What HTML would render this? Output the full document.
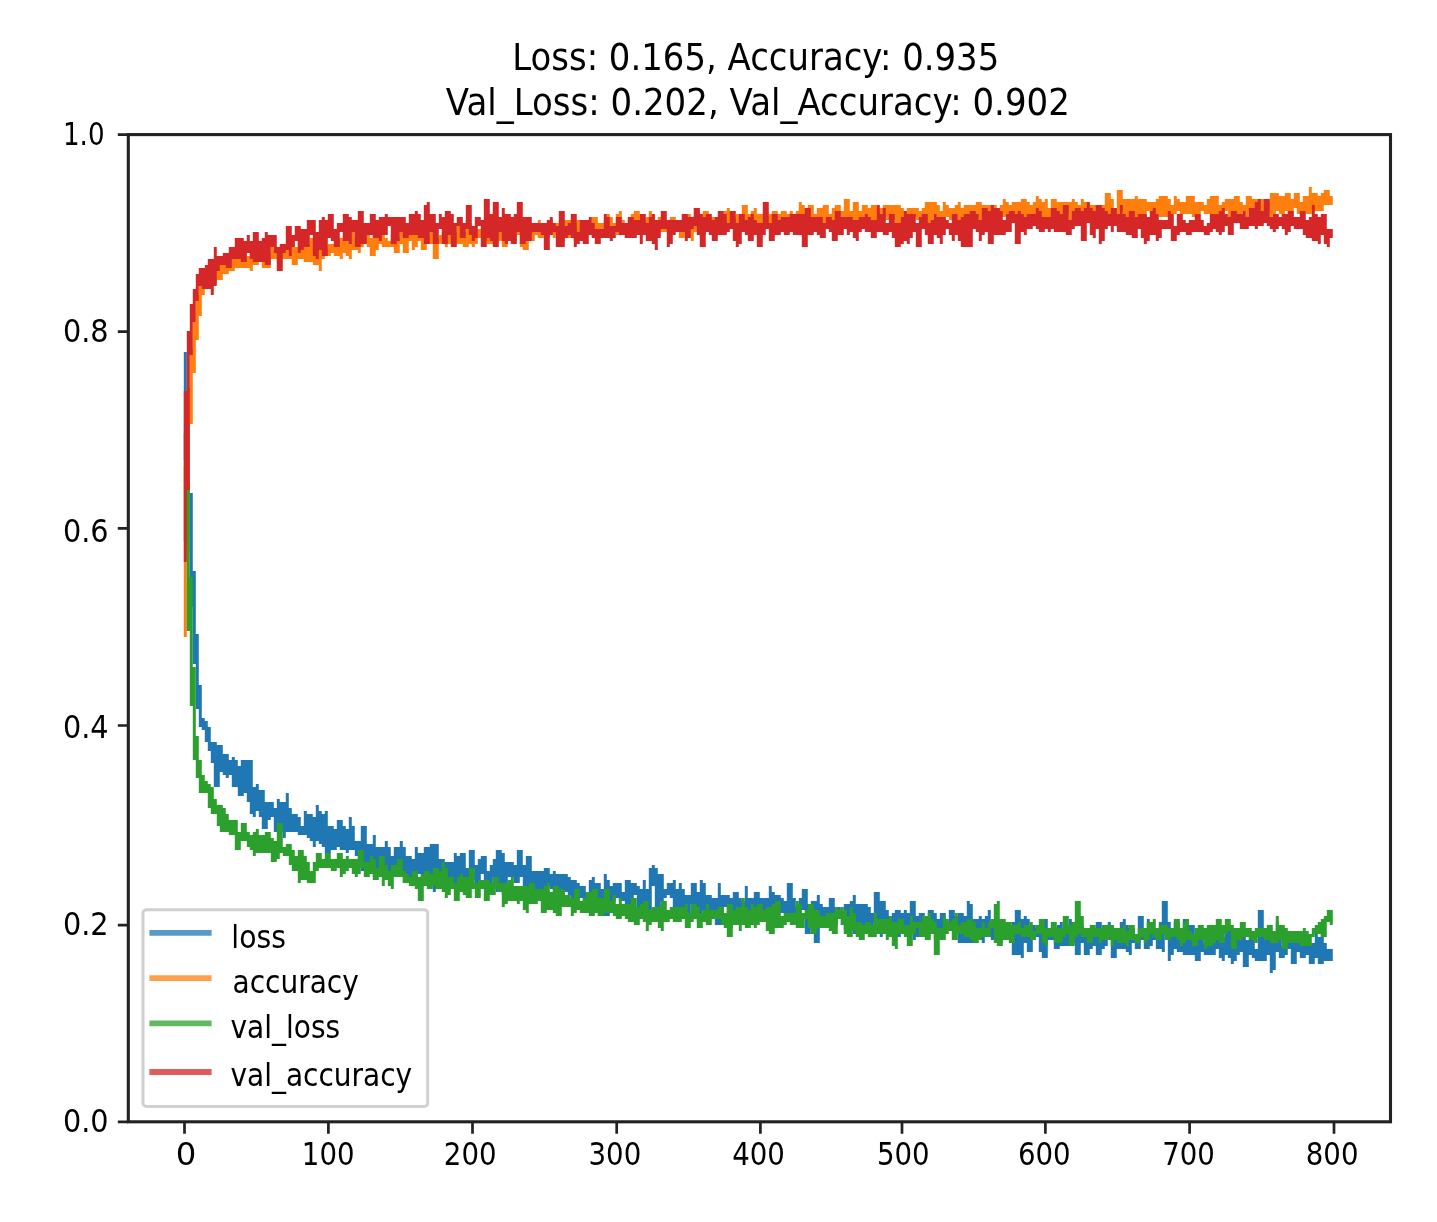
<!DOCTYPE html>
<html><head><meta charset="utf-8"><title>Training history</title>
<style>html,body{margin:0;padding:0;background:#fff;}svg{display:block;filter:blur(0.7px);}</style>
</head><body>
<svg width="1437" height="1222" viewBox="0 0 1437 1222"><rect x="0" y="0" width="1437" height="1222" fill="#fff"/>
<defs><clipPath id="ax"><rect x="128.3" y="134.6" width="1262.2" height="987.1999999999999"/></clipPath></defs>
<g clip-path="url(#ax)">
<path d="M183.80,352.10H186.80V403.10H189.80V493.10H192.80V571.10H195.80V634.10H198.80V685.10H201.80V718.10H204.80V721.10H207.80V727.10H210.80V742.10H213.80V742.10H216.80V745.10H219.80V745.10H222.80V754.10H225.80V754.10H228.80V760.10H231.80V757.10H234.80V760.10H237.80V766.10H240.80V760.10H243.80V760.10H246.80V760.10H249.80V760.10H252.80V787.10H255.80V784.10H258.80V790.10H261.80V790.10H264.80V802.10H267.80V802.10H270.80V802.10H273.80V808.10H276.80V799.10H279.80V802.10H282.80V802.10H285.80V793.10H288.80V808.10H291.80V814.10H294.80V814.10H297.80V817.10H300.80V826.10H303.80V811.10H306.80V814.10H309.80V814.10H312.80V817.10H315.80V805.10H318.80V811.10H321.80V814.10H324.80V811.10H327.80V826.10H330.80V826.10H333.80V829.10H336.80V820.10H339.80V820.10H342.80V826.10H345.80V829.10H348.80V817.10H351.80V826.10H354.80V841.10H357.80V841.10H360.80V826.10H363.80V826.10H366.80V844.10H369.80V844.10H372.80V835.10H375.80V847.10H378.80V847.10H381.80V847.10H384.80V841.10H387.80V847.10H390.80V856.10H393.80V847.10H396.80V847.10H399.80V841.10H402.80V847.10H405.80V856.10H408.80V856.10H411.80V859.10H414.80V847.10H417.80V853.10H420.80V853.10H423.80V847.10H426.80V847.10H429.80V844.10H432.80V844.10H435.80V844.10H438.80V859.10H441.80V859.10H444.80V862.10H447.80V862.10H450.80V862.10H453.80V853.10H456.80V856.10H459.80V853.10H462.80V853.10H465.80V868.10H468.80V850.10H471.80V850.10H474.80V865.10H477.80V859.10H480.80V856.10H483.80V856.10H486.80V871.10H489.80V865.10H492.80V859.10H495.80V850.10H498.80V850.10H501.80V853.10H504.80V862.10H507.80V862.10H510.80V862.10H513.80V865.10H516.80V850.10H519.80V850.10H522.80V865.10H525.80V856.10H528.80V856.10H531.80V871.10H534.80V871.10H537.80V871.10H540.80V871.10H543.80V868.10H546.80V868.10H549.80V874.10H552.80V871.10H555.80V874.10H558.80V874.10H561.80V874.10H564.80V874.10H567.80V877.10H570.80V880.10H573.80V880.10H576.80V883.10H579.80V886.10H582.80V886.10H585.80V892.10H588.80V880.10H591.80V877.10H594.80V883.10H597.80V883.10H600.80V889.10H603.80V874.10H606.80V880.10H609.80V886.10H612.80V883.10H615.80V883.10H618.80V883.10H621.80V892.10H624.80V880.10H627.80V880.10H630.80V883.10H633.80V883.10H636.80V886.10H639.80V889.10H642.80V880.10H645.80V889.10H648.80V868.10H651.80V865.10H654.80V868.10H657.80V874.10H660.80V874.10H663.80V889.10H666.80V883.10H669.80V883.10H672.80V880.10H675.80V889.10H678.80V883.10H681.80V889.10H684.80V895.10H687.80V895.10H690.80V883.10H693.80V883.10H696.80V892.10H699.80V880.10H702.80V883.10H705.80V895.10H708.80V895.10H711.80V898.10H714.80V898.10H717.80V883.10H720.80V895.10H723.80V895.10H726.80V895.10H729.80V898.10H732.80V892.10H735.80V892.10H738.80V898.10H741.80V901.10H744.80V886.10H747.80V898.10H750.80V898.10H753.80V892.10H756.80V892.10H759.80V898.10H762.80V898.10H765.80V898.10H768.80V886.10H771.80V892.10H774.80V895.10H777.80V895.10H780.80V898.10H783.80V901.10H786.80V883.10H789.80V883.10H792.80V898.10H795.80V907.10H798.80V898.10H801.80V889.10H804.80V889.10H807.80V904.10H810.80V901.10H813.80V901.10H816.80V895.10H819.80V904.10H822.80V907.10H825.80V907.10H828.80V898.10H831.80V898.10H834.80V907.10H837.80V907.10H840.80V910.10H843.80V904.10H846.80V904.10H849.80V901.10H852.80V895.10H855.80V904.10H858.80V904.10H861.80V904.10H864.80V904.10H867.80V907.10H870.80V913.10H873.80V892.10H876.80V892.10H879.80V901.10H882.80V901.10H885.80V910.10H888.80V916.10H891.80V913.10H894.80V910.10H897.80V910.10H900.80V913.10H903.80V910.10H906.80V913.10H909.80V901.10H912.80V901.10H915.80V916.10H918.80V913.10H921.80V913.10H924.80V916.10H927.80V910.10H930.80V910.10H933.80V913.10H936.80V919.10H939.80V913.10H942.80V913.10H945.80V925.10H948.80V910.10H951.80V910.10H954.80V916.10H957.80V913.10H960.80V913.10H963.80V916.10H966.80V901.10H969.80V904.10H972.80V919.10H975.80V919.10H978.80V916.10H981.80V919.10H984.80V916.10H987.80V910.10H990.80V925.10H993.80V928.10H996.80V928.10H999.80V928.10H1002.80V925.10H1005.80V925.10H1008.80V928.10H1011.80V922.10H1014.80V910.10H1017.80V910.10H1020.80V919.10H1023.80V916.10H1026.80V919.10H1029.80V925.10H1032.80V925.10H1035.80V928.10H1038.80V928.10H1041.80V919.10H1044.80V919.10H1047.80V928.10H1050.80V931.10H1053.80V928.10H1056.80V925.10H1059.80V922.10H1062.80V928.10H1065.80V928.10H1068.80V919.10H1071.80V922.10H1074.80V928.10H1077.80V925.10H1080.80V925.10H1083.80V928.10H1086.80V928.10H1089.80V928.10H1092.80V928.10H1095.80V922.10H1098.80V922.10H1101.80V934.10H1104.80V931.10H1107.80V922.10H1110.80V925.10H1113.80V937.10H1116.80V937.10H1119.80V922.10H1122.80V919.10H1125.80V925.10H1128.80V928.10H1131.80V928.10H1134.80V937.10H1137.80V916.10H1140.80V916.10H1143.80V931.10H1146.80V919.10H1149.80V931.10H1152.80V931.10H1155.80V928.10H1158.80V922.10H1161.80V901.10H1164.80V901.10H1167.80V922.10H1170.80V934.10H1173.80V922.10H1176.80V922.10H1179.80V940.10H1182.80V919.10H1185.80V919.10H1188.80V925.10H1191.80V925.10H1194.80V934.10H1197.80V928.10H1200.80V928.10H1203.80V943.10H1206.80V931.10H1209.80V937.10H1212.80V925.10H1215.80V934.10H1218.80V937.10H1221.80V937.10H1224.80V931.10H1227.80V931.10H1230.80V931.10H1233.80V931.10H1236.80V937.10H1239.80V934.10H1242.80V937.10H1245.80V940.10H1248.80V934.10H1251.80V934.10H1254.80V949.10H1257.80V910.10H1260.80V910.10H1263.80V931.10H1266.80V931.10H1269.80V937.10H1272.80V940.10H1275.80V922.10H1278.80V931.10H1281.80V946.10H1284.80V940.10H1287.80V937.10H1290.80V937.10H1293.80V931.10H1296.80V931.10H1299.80V943.10H1302.80V943.10H1305.80V943.10H1308.80V943.10H1311.80V943.10H1314.80V934.10H1317.80V937.10H1320.80V934.10H1323.80V943.10H1326.80V949.10H1329.80V949.10H1332.80V961.10H1329.80V961.10H1326.80V961.10H1323.80V964.10H1320.80V964.10H1317.80V958.10H1314.80V964.10H1311.80V964.10H1308.80V955.10H1305.80V958.10H1302.80V958.10H1299.80V952.10H1296.80V964.10H1293.80V964.10H1290.80V949.10H1287.80V955.10H1284.80V958.10H1281.80V958.10H1278.80V952.10H1275.80V970.10H1272.80V973.10H1269.80V955.10H1266.80V961.10H1263.80V961.10H1260.80V961.10H1257.80V961.10H1254.80V958.10H1251.80V955.10H1248.80V967.10H1245.80V967.10H1242.80V952.10H1239.80V955.10H1236.80V961.10H1233.80V964.10H1230.80V958.10H1227.80V955.10H1224.80V961.10H1221.80V958.10H1218.80V949.10H1215.80V955.10H1212.80V955.10H1209.80V955.10H1206.80V955.10H1203.80V952.10H1200.80V961.10H1197.80V961.10H1194.80V955.10H1191.80V955.10H1188.80V955.10H1185.80V955.10H1182.80V952.10H1179.80V952.10H1176.80V949.10H1173.80V955.10H1170.80V961.10H1167.80V934.10H1164.80V952.10H1161.80V949.10H1158.80V949.10H1155.80V940.10H1152.80V946.10H1149.80V949.10H1146.80V949.10H1143.80V940.10H1140.80V949.10H1137.80V949.10H1134.80V943.10H1131.80V955.10H1128.80V952.10H1125.80V949.10H1122.80V949.10H1119.80V949.10H1116.80V958.10H1113.80V958.10H1110.80V940.10H1107.80V946.10H1104.80V949.10H1101.80V955.10H1098.80V955.10H1095.80V946.10H1092.80V949.10H1089.80V955.10H1086.80V955.10H1083.80V943.10H1080.80V955.10H1077.80V955.10H1074.80V943.10H1071.80V946.10H1068.80V946.10H1065.80V946.10H1062.80V946.10H1059.80V949.10H1056.80V949.10H1053.80V940.10H1050.80V940.10H1047.80V958.10H1044.80V958.10H1041.80V952.10H1038.80V937.10H1035.80V940.10H1032.80V952.10H1029.80V952.10H1026.80V943.10H1023.80V958.10H1020.80V955.10H1017.80V955.10H1014.80V955.10H1011.80V940.10H1008.80V937.10H1005.80V934.10H1002.80V943.10H999.80V943.10H996.80V940.10H993.80V940.10H990.80V937.10H987.80V937.10H984.80V943.10H981.80V940.10H978.80V931.10H975.80V943.10H972.80V943.10H969.80V943.10H966.80V943.10H963.80V943.10H960.80V943.10H957.80V925.10H954.80V928.10H951.80V931.10H948.80V931.10H945.80V931.10H942.80V928.10H939.80V940.10H936.80V940.10H933.80V925.10H930.80V928.10H927.80V934.10H924.80V934.10H921.80V937.10H918.80V937.10H915.80V940.10H912.80V934.10H909.80V928.10H906.80V934.10H903.80V934.10H900.80V937.10H897.80V937.10H894.80V934.10H891.80V934.10H888.80V934.10H885.80V925.10H882.80V937.10H879.80V934.10H876.80V922.10H873.80V928.10H870.80V928.10H867.80V928.10H864.80V934.10H861.80V934.10H858.80V934.10H855.80V934.10H852.80V925.10H849.80V928.10H846.80V931.10H843.80V925.10H840.80V919.10H837.80V925.10H834.80V925.10H831.80V922.10H828.80V919.10H825.80V925.10H822.80V925.10H819.80V943.10H816.80V943.10H813.80V925.10H810.80V934.10H807.80V934.10H804.80V910.10H801.80V919.10H798.80V919.10H795.80V919.10H792.80V916.10H789.80V919.10H786.80V919.10H783.80V913.10H780.80V913.10H777.80V922.10H774.80V922.10H771.80V919.10H768.80V919.10H765.80V922.10H762.80V922.10H759.80V916.10H756.80V910.10H753.80V919.10H750.80V916.10H747.80V916.10H744.80V916.10H741.80V913.10H738.80V913.10H735.80V913.10H732.80V928.10H729.80V928.10H726.80V907.10H723.80V925.10H720.80V925.10H717.80V925.10H714.80V913.10H711.80V910.10H708.80V910.10H705.80V910.10H702.80V922.10H699.80V922.10H696.80V913.10H693.80V904.10H690.80V913.10H687.80V913.10H684.80V910.10H681.80V910.10H678.80V916.10H675.80V913.10H672.80V898.10H669.80V895.10H666.80V898.10H663.80V901.10H660.80V913.10H657.80V913.10H654.80V886.10H651.80V910.10H648.80V913.10H645.80V913.10H642.80V919.10H639.80V910.10H636.80V895.10H633.80V916.10H630.80V916.10H627.80V907.10H624.80V901.10H621.80V901.10H618.80V898.10H615.80V901.10H612.80V901.10H609.80V916.10H606.80V916.10H603.80V916.10H600.80V916.10H597.80V901.10H594.80V901.10H591.80V898.10H588.80V907.10H585.80V907.10H582.80V898.10H579.80V901.10H576.80V898.10H573.80V898.10H570.80V895.10H567.80V892.10H564.80V895.10H561.80V895.10H558.80V895.10H555.80V892.10H552.80V889.10H549.80V886.10H546.80V895.10H543.80V895.10H540.80V892.10H537.80V889.10H534.80V892.10H531.80V892.10H528.80V895.10H525.80V892.10H522.80V877.10H519.80V883.10H516.80V883.10H513.80V877.10H510.80V877.10H507.80V895.10H504.80V895.10H501.80V889.10H498.80V892.10H495.80V877.10H492.80V886.10H489.80V892.10H486.80V889.10H483.80V874.10H480.80V886.10H477.80V889.10H474.80V880.10H471.80V880.10H468.80V880.10H465.80V880.10H462.80V883.10H459.80V883.10H456.80V889.10H453.80V889.10H450.80V877.10H447.80V877.10H444.80V877.10H441.80V886.10H438.80V889.10H435.80V892.10H432.80V880.10H429.80V880.10H426.80V883.10H423.80V880.10H420.80V874.10H417.80V883.10H414.80V886.10H411.80V877.10H408.80V883.10H405.80V883.10H402.80V874.10H399.80V877.10H396.80V877.10H393.80V871.10H390.80V874.10H387.80V874.10H384.80V865.10H381.80V868.10H378.80V877.10H375.80V877.10H372.80V865.10H369.80V868.10H366.80V871.10H363.80V871.10H360.80V859.10H357.80V856.10H354.80V850.10H351.80V850.10H348.80V853.10H345.80V850.10H342.80V850.10H339.80V847.10H336.80V850.10H333.80V850.10H330.80V853.10H327.80V853.10H324.80V847.10H321.80V844.10H318.80V841.10H315.80V847.10H312.80V841.10H309.80V838.10H306.80V835.10H303.80V835.10H300.80V835.10H297.80V832.10H294.80V832.10H291.80V832.10H288.80V832.10H285.80V838.10H282.80V832.10H279.80V832.10H276.80V832.10H273.80V817.10H270.80V820.10H267.80V829.10H264.80V829.10H261.80V817.10H258.80V811.10H255.80V817.10H252.80V814.10H249.80V802.10H246.80V793.10H243.80V796.10H240.80V796.10H237.80V787.10H234.80V787.10H231.80V775.10H228.80V778.10H225.80V775.10H222.80V772.10H219.80V787.10H216.80V787.10H213.80V763.10H210.80V751.10H207.80V742.10H204.80V730.10H201.80V727.10H198.80V709.10H195.80V664.10H192.80V607.10H189.80V535.10H186.80V460.10H183.80Z" fill="#1f77b4"/>
<path d="M183.80,466.10H186.80V388.10H189.80V349.10H192.80V322.10H195.80V295.10H198.80V283.10H201.80V283.10H204.80V274.10H207.80V274.10H210.80V271.10H213.80V265.10H216.80V265.10H219.80V265.10H222.80V262.10H225.80V256.10H228.80V256.10H231.80V259.10H234.80V256.10H237.80V256.10H240.80V253.10H243.80V250.10H246.80V256.10H249.80V253.10H252.80V253.10H255.80V250.10H258.80V253.10H261.80V253.10H264.80V253.10H267.80V253.10H270.80V247.10H273.80V250.10H276.80V250.10H279.80V250.10H282.80V247.10H285.80V247.10H288.80V241.10H291.80V241.10H294.80V247.10H297.80V241.10H300.80V241.10H303.80V238.10H306.80V244.10H309.80V238.10H312.80V238.10H315.80V247.10H318.80V247.10H321.80V247.10H324.80V247.10H327.80V244.10H330.80V244.10H333.80V244.10H336.80V238.10H339.80V238.10H342.80V232.10H345.80V232.10H348.80V232.10H351.80V229.10H354.80V238.10H357.80V238.10H360.80V235.10H363.80V235.10H366.80V235.10H369.80V238.10H372.80V235.10H375.80V238.10H378.80V235.10H381.80V235.10H384.80V238.10H387.80V241.10H390.80V235.10H393.80V235.10H396.80V238.10H399.80V232.10H402.80V232.10H405.80V232.10H408.80V229.10H411.80V229.10H414.80V235.10H417.80V232.10H420.80V235.10H423.80V235.10H426.80V235.10H429.80V232.10H432.80V232.10H435.80V238.10H438.80V235.10H441.80V232.10H444.80V229.10H447.80V229.10H450.80V232.10H453.80V232.10H456.80V226.10H459.80V223.10H462.80V232.10H465.80V220.10H468.80V223.10H471.80V229.10H474.80V229.10H477.80V229.10H480.80V229.10H483.80V229.10H486.80V229.10H489.80V229.10H492.80V223.10H495.80V223.10H498.80V229.10H501.80V229.10H504.80V226.10H507.80V229.10H510.80V229.10H513.80V220.10H516.80V220.10H519.80V226.10H522.80V229.10H525.80V226.10H528.80V226.10H531.80V229.10H534.80V223.10H537.80V220.10H540.80V226.10H543.80V226.10H546.80V223.10H549.80V220.10H552.80V223.10H555.80V223.10H558.80V220.10H561.80V220.10H564.80V220.10H567.80V220.10H570.80V220.10H573.80V223.10H576.80V220.10H579.80V220.10H582.80V223.10H585.80V220.10H588.80V223.10H591.80V217.10H594.80V217.10H597.80V223.10H600.80V223.10H603.80V220.10H606.80V214.10H609.80V217.10H612.80V223.10H615.80V214.10H618.80V211.10H621.80V220.10H624.80V223.10H627.80V220.10H630.80V214.10H633.80V211.10H636.80V211.10H639.80V223.10H642.80V220.10H645.80V217.10H648.80V211.10H651.80V214.10H654.80V223.10H657.80V217.10H660.80V217.10H663.80V223.10H666.80V220.10H669.80V217.10H672.80V217.10H675.80V220.10H678.80V223.10H681.80V214.10H684.80V214.10H687.80V214.10H690.80V220.10H693.80V208.10H696.80V208.10H699.80V214.10H702.80V211.10H705.80V211.10H708.80V217.10H711.80V217.10H714.80V217.10H717.80V217.10H720.80V214.10H723.80V211.10H726.80V208.10H729.80V211.10H732.80V217.10H735.80V214.10H738.80V214.10H741.80V205.10H744.80V205.10H747.80V214.10H750.80V211.10H753.80V208.10H756.80V214.10H759.80V214.10H762.80V214.10H765.80V214.10H768.80V214.10H771.80V211.10H774.80V211.10H777.80V214.10H780.80V211.10H783.80V211.10H786.80V214.10H789.80V211.10H792.80V214.10H795.80V211.10H798.80V202.10H801.80V205.10H804.80V208.10H807.80V205.10H810.80V205.10H813.80V214.10H816.80V208.10H819.80V208.10H822.80V205.10H825.80V205.10H828.80V214.10H831.80V208.10H834.80V205.10H837.80V205.10H840.80V211.10H843.80V199.10H846.80V199.10H849.80V211.10H852.80V202.10H855.80V202.10H858.80V211.10H861.80V205.10H864.80V205.10H867.80V208.10H870.80V205.10H873.80V205.10H876.80V208.10H879.80V208.10H882.80V205.10H885.80V205.10H888.80V205.10H891.80V205.10H894.80V205.10H897.80V205.10H900.80V208.10H903.80V211.10H906.80V208.10H909.80V208.10H912.80V208.10H915.80V208.10H918.80V211.10H921.80V208.10H924.80V202.10H927.80V202.10H930.80V202.10H933.80V202.10H936.80V205.10H939.80V211.10H942.80V202.10H945.80V205.10H948.80V208.10H951.80V208.10H954.80V205.10H957.80V202.10H960.80V208.10H963.80V205.10H966.80V205.10H969.80V205.10H972.80V205.10H975.80V202.10H978.80V202.10H981.80V205.10H984.80V205.10H987.80V205.10H990.80V205.10H993.80V205.10H996.80V208.10H999.80V205.10H1002.80V199.10H1005.80V202.10H1008.80V205.10H1011.80V202.10H1014.80V202.10H1017.80V202.10H1020.80V199.10H1023.80V199.10H1026.80V202.10H1029.80V205.10H1032.80V202.10H1035.80V196.10H1038.80V199.10H1041.80V202.10H1044.80V199.10H1047.80V208.10H1050.80V199.10H1053.80V199.10H1056.80V202.10H1059.80V202.10H1062.80V202.10H1065.80V202.10H1068.80V202.10H1071.80V199.10H1074.80V202.10H1077.80V205.10H1080.80V199.10H1083.80V202.10H1086.80V202.10H1089.80V205.10H1092.80V205.10H1095.80V205.10H1098.80V205.10H1101.80V205.10H1104.80V193.10H1107.80V193.10H1110.80V199.10H1113.80V208.10H1116.80V190.10H1119.80V190.10H1122.80V199.10H1125.80V199.10H1128.80V199.10H1131.80V199.10H1134.80V196.10H1137.80V199.10H1140.80V199.10H1143.80V199.10H1146.80V202.10H1149.80V202.10H1152.80V202.10H1155.80V199.10H1158.80V196.10H1161.80V196.10H1164.80V196.10H1167.80V199.10H1170.80V205.10H1173.80V196.10H1176.80V199.10H1179.80V202.10H1182.80V202.10H1185.80V196.10H1188.80V196.10H1191.80V196.10H1194.80V202.10H1197.80V202.10H1200.80V202.10H1203.80V205.10H1206.80V199.10H1209.80V196.10H1212.80V196.10H1215.80V196.10H1218.80V205.10H1221.80V202.10H1224.80V199.10H1227.80V199.10H1230.80V199.10H1233.80V196.10H1236.80V196.10H1239.80V202.10H1242.80V205.10H1245.80V196.10H1248.80V196.10H1251.80V199.10H1254.80V199.10H1257.80V199.10H1260.80V199.10H1263.80V199.10H1266.80V202.10H1269.80V193.10H1272.80V193.10H1275.80V193.10H1278.80V196.10H1281.80V196.10H1284.80V193.10H1287.80V193.10H1290.80V199.10H1293.80V193.10H1296.80V193.10H1299.80V202.10H1302.80V196.10H1305.80V196.10H1308.80V187.10H1311.80V193.10H1314.80V193.10H1317.80V196.10H1320.80V193.10H1323.80V190.10H1326.80V190.10H1329.80V196.10H1332.80V205.10H1329.80V205.10H1326.80V205.10H1323.80V211.10H1320.80V211.10H1317.80V211.10H1314.80V211.10H1311.80V214.10H1308.80V214.10H1305.80V211.10H1302.80V214.10H1299.80V214.10H1296.80V208.10H1293.80V214.10H1290.80V214.10H1287.80V211.10H1284.80V217.10H1281.80V214.10H1278.80V211.10H1275.80V214.10H1272.80V217.10H1269.80V211.10H1266.80V211.10H1263.80V214.10H1260.80V214.10H1257.80V211.10H1254.80V211.10H1251.80V211.10H1248.80V217.10H1245.80V211.10H1242.80V220.10H1239.80V220.10H1236.80V214.10H1233.80V217.10H1230.80V217.10H1227.80V211.10H1224.80V214.10H1221.80V220.10H1218.80V217.10H1215.80V214.10H1212.80V214.10H1209.80V214.10H1206.80V214.10H1203.80V211.10H1200.80V214.10H1197.80V217.10H1194.80V217.10H1191.80V214.10H1188.80V214.10H1185.80V214.10H1182.80V214.10H1179.80V211.10H1176.80V214.10H1173.80V214.10H1170.80V217.10H1167.80V217.10H1164.80V217.10H1161.80V217.10H1158.80V214.10H1155.80V220.10H1152.80V214.10H1149.80V211.10H1146.80V217.10H1143.80V217.10H1140.80V217.10H1137.80V220.10H1134.80V220.10H1131.80V217.10H1128.80V223.10H1125.80V223.10H1122.80V211.10H1119.80V220.10H1116.80V223.10H1113.80V223.10H1110.80V214.10H1107.80V217.10H1104.80V217.10H1101.80V214.10H1098.80V214.10H1095.80V214.10H1092.80V220.10H1089.80V220.10H1086.80V217.10H1083.80V217.10H1080.80V217.10H1077.80V217.10H1074.80V220.10H1071.80V220.10H1068.80V214.10H1065.80V217.10H1062.80V217.10H1059.80V220.10H1056.80V220.10H1053.80V223.10H1050.80V220.10H1047.80V220.10H1044.80V217.10H1041.80V217.10H1038.80V223.10H1035.80V226.10H1032.80V220.10H1029.80V223.10H1026.80V220.10H1023.80V226.10H1020.80V226.10H1017.80V220.10H1014.80V220.10H1011.80V220.10H1008.80V214.10H1005.80V217.10H1002.80V217.10H999.80V217.10H996.80V217.10H993.80V220.10H990.80V220.10H987.80V214.10H984.80V220.10H981.80V220.10H978.80V217.10H975.80V220.10H972.80V220.10H969.80V217.10H966.80V223.10H963.80V223.10H960.80V223.10H957.80V214.10H954.80V220.10H951.80V220.10H948.80V217.10H945.80V220.10H942.80V223.10H939.80V226.10H936.80V214.10H933.80V223.10H930.80V223.10H927.80V223.10H924.80V220.10H921.80V220.10H918.80V220.10H915.80V217.10H912.80V220.10H909.80V220.10H906.80V223.10H903.80V223.10H900.80V223.10H897.80V223.10H894.80V220.10H891.80V220.10H888.80V220.10H885.80V220.10H882.80V220.10H879.80V226.10H876.80V223.10H873.80V226.10H870.80V226.10H867.80V217.10H864.80V229.10H861.80V229.10H858.80V220.10H855.80V232.10H852.80V232.10H849.80V220.10H846.80V226.10H843.80V229.10H840.80V220.10H837.80V220.10H834.80V223.10H831.80V223.10H828.80V223.10H825.80V223.10H822.80V229.10H819.80V226.10H816.80V226.10H813.80V223.10H810.80V226.10H807.80V226.10H804.80V229.10H801.80V229.10H798.80V229.10H795.80V226.10H792.80V226.10H789.80V226.10H786.80V226.10H783.80V226.10H780.80V226.10H777.80V223.10H774.80V226.10H771.80V226.10H768.80V226.10H765.80V226.10H762.80V226.10H759.80V226.10H756.80V223.10H753.80V223.10H750.80V226.10H747.80V232.10H744.80V226.10H741.80V226.10H738.80V226.10H735.80V226.10H732.80V226.10H729.80V229.10H726.80V229.10H723.80V226.10H720.80V226.10H717.80V226.10H714.80V229.10H711.80V232.10H708.80V226.10H705.80V235.10H702.80V238.10H699.80V232.10H696.80V232.10H693.80V241.10H690.80V238.10H687.80V226.10H684.80V238.10H681.80V238.10H678.80V229.10H675.80V229.10H672.80V232.10H669.80V232.10H666.80V232.10H663.80V232.10H660.80V232.10H657.80V235.10H654.80V241.10H651.80V235.10H648.80V235.10H645.80V232.10H642.80V235.10H639.80V235.10H636.80V232.10H633.80V232.10H630.80V238.10H627.80V238.10H624.80V235.10H621.80V235.10H618.80V235.10H615.80V232.10H612.80V235.10H609.80V235.10H606.80V235.10H603.80V232.10H600.80V232.10H597.80V235.10H594.80V238.10H591.80V235.10H588.80V232.10H585.80V232.10H582.80V232.10H579.80V238.10H576.80V241.10H573.80V235.10H570.80V238.10H567.80V238.10H564.80V241.10H561.80V238.10H558.80V235.10H555.80V238.10H552.80V235.10H549.80V238.10H546.80V235.10H543.80V238.10H540.80V238.10H537.80V235.10H534.80V241.10H531.80V241.10H528.80V250.10H525.80V250.10H522.80V247.10H519.80V235.10H516.80V241.10H513.80V244.10H510.80V241.10H507.80V247.10H504.80V247.10H501.80V241.10H498.80V241.10H495.80V244.10H492.80V244.10H489.80V244.10H486.80V241.10H483.80V238.10H480.80V238.10H477.80V244.10H474.80V247.10H471.80V244.10H468.80V247.10H465.80V247.10H462.80V244.10H459.80V244.10H456.80V244.10H453.80V244.10H450.80V244.10H447.80V247.10H444.80V241.10H441.80V244.10H438.80V259.10H435.80V259.10H432.80V244.10H429.80V244.10H426.80V250.10H423.80V250.10H420.80V241.10H417.80V247.10H414.80V250.10H411.80V241.10H408.80V253.10H405.80V253.10H402.80V244.10H399.80V253.10H396.80V253.10H393.80V247.10H390.80V247.10H387.80V247.10H384.80V247.10H381.80V244.10H378.80V250.10H375.80V256.10H372.80V256.10H369.80V247.10H366.80V244.10H363.80V247.10H360.80V253.10H357.80V250.10H354.80V250.10H351.80V259.10H348.80V256.10H345.80V253.10H342.80V259.10H339.80V256.10H336.80V256.10H333.80V253.10H330.80V256.10H327.80V256.10H324.80V259.10H321.80V271.10H318.80V265.10H315.80V265.10H312.80V262.10H309.80V262.10H306.80V262.10H303.80V259.10H300.80V259.10H297.80V265.10H294.80V265.10H291.80V259.10H288.80V259.10H285.80V259.10H282.80V259.10H279.80V262.10H276.80V259.10H273.80V259.10H270.80V268.10H267.80V268.10H264.80V268.10H261.80V262.10H258.80V265.10H255.80V265.10H252.80V271.10H249.80V268.10H246.80V268.10H243.80V268.10H240.80V268.10H237.80V268.10H234.80V271.10H231.80V271.10H228.80V274.10H225.80V274.10H222.80V280.10H219.80V280.10H216.80V283.10H213.80V283.10H210.80V283.10H207.80V289.10H204.80V295.10H201.80V316.10H198.80V340.10H195.80V373.10H192.80V424.10H189.80V553.10H186.80V637.10H183.80Z" fill="#ff7f0e"/>
<path d="M183.80,433.10H186.80V481.10H189.80V577.10H192.80V667.10H195.80V736.10H198.80V760.10H201.80V775.10H204.80V781.10H207.80V784.10H210.80V787.10H213.80V799.10H216.80V805.10H219.80V805.10H222.80V808.10H225.80V814.10H228.80V820.10H231.80V820.10H234.80V820.10H237.80V832.10H240.80V823.10H243.80V823.10H246.80V832.10H249.80V835.10H252.80V832.10H255.80V829.10H258.80V835.10H261.80V835.10H264.80V832.10H267.80V832.10H270.80V838.10H273.80V841.10H276.80V823.10H279.80V823.10H282.80V847.10H285.80V844.10H288.80V844.10H291.80V850.10H294.80V856.10H297.80V850.10H300.80V850.10H303.80V856.10H306.80V862.10H309.80V871.10H312.80V862.10H315.80V853.10H318.80V853.10H321.80V859.10H324.80V853.10H327.80V853.10H330.80V859.10H333.80V859.10H336.80V853.10H339.80V853.10H342.80V859.10H345.80V856.10H348.80V859.10H351.80V859.10H354.80V859.10H357.80V850.10H360.80V850.10H363.80V862.10H366.80V862.10H369.80V856.10H372.80V859.10H375.80V868.10H378.80V856.10H381.80V856.10H384.80V865.10H387.80V871.10H390.80V865.10H393.80V865.10H396.80V859.10H399.80V859.10H402.80V871.10H405.80V874.10H408.80V877.10H411.80V871.10H414.80V871.10H417.80V877.10H420.80V874.10H423.80V871.10H426.80V871.10H429.80V874.10H432.80V868.10H435.80V868.10H438.80V871.10H441.80V862.10H444.80V868.10H447.80V877.10H450.80V877.10H453.80V883.10H456.80V877.10H459.80V874.10H462.80V877.10H465.80V877.10H468.80V868.10H471.80V868.10H474.80V883.10H477.80V880.10H480.80V880.10H483.80V880.10H486.80V880.10H489.80V883.10H492.80V877.10H495.80V877.10H498.80V883.10H501.80V883.10H504.80V883.10H507.80V880.10H510.80V877.10H513.80V886.10H516.80V886.10H519.80V886.10H522.80V886.10H525.80V886.10H528.80V883.10H531.80V883.10H534.80V889.10H537.80V889.10H540.80V889.10H543.80V886.10H546.80V883.10H549.80V892.10H552.80V886.10H555.80V886.10H558.80V889.10H561.80V889.10H564.80V895.10H567.80V895.10H570.80V898.10H573.80V889.10H576.80V889.10H579.80V901.10H582.80V898.10H585.80V892.10H588.80V892.10H591.80V889.10H594.80V889.10H597.80V898.10H600.80V898.10H603.80V889.10H606.80V889.10H609.80V901.10H612.80V895.10H615.80V904.10H618.80V898.10H621.80V904.10H624.80V904.10H627.80V904.10H630.80V898.10H633.80V898.10H636.80V907.10H639.80V904.10H642.80V901.10H645.80V901.10H648.80V910.10H651.80V907.10H654.80V907.10H657.80V907.10H660.80V901.10H663.80V901.10H666.80V910.10H669.80V907.10H672.80V907.10H675.80V907.10H678.80V907.10H681.80V907.10H684.80V904.10H687.80V913.10H690.80V904.10H693.80V904.10H696.80V907.10H699.80V913.10H702.80V910.10H705.80V904.10H708.80V910.10H711.80V910.10H714.80V910.10H717.80V907.10H720.80V907.10H723.80V913.10H726.80V904.10H729.80V904.10H732.80V910.10H735.80V907.10H738.80V907.10H741.80V898.10H744.80V907.10H747.80V910.10H750.80V904.10H753.80V907.10H756.80V904.10H759.80V904.10H762.80V910.10H765.80V907.10H768.80V907.10H771.80V904.10H774.80V901.10H777.80V901.10H780.80V916.10H783.80V913.10H786.80V913.10H789.80V913.10H792.80V913.10H795.80V901.10H798.80V904.10H801.80V913.10H804.80V910.10H807.80V904.10H810.80V904.10H813.80V910.10H816.80V910.10H819.80V916.10H822.80V916.10H825.80V913.10H828.80V913.10H831.80V913.10H834.80V907.10H837.80V910.10H840.80V907.10H843.80V910.10H846.80V916.10H849.80V907.10H852.80V913.10H855.80V922.10H858.80V922.10H861.80V925.10H864.80V922.10H867.80V922.10H870.80V925.10H873.80V913.10H876.80V919.10H879.80V919.10H882.80V919.10H885.80V919.10H888.80V916.10H891.80V922.10H894.80V922.10H897.80V919.10H900.80V919.10H903.80V925.10H906.80V925.10H909.80V916.10H912.80V922.10H915.80V922.10H918.80V922.10H921.80V916.10H924.80V916.10H927.80V913.10H930.80V919.10H933.80V922.10H936.80V928.10H939.80V928.10H942.80V916.10H945.80V919.10H948.80V922.10H951.80V919.10H954.80V913.10H957.80V925.10H960.80V922.10H963.80V922.10H966.80V919.10H969.80V919.10H972.80V922.10H975.80V928.10H978.80V928.10H981.80V922.10H984.80V928.10H987.80V922.10H990.80V919.10H993.80V904.10H996.80V901.10H999.80V919.10H1002.80V919.10H1005.80V922.10H1008.80V922.10H1011.80V925.10H1014.80V925.10H1017.80V922.10H1020.80V928.10H1023.80V925.10H1026.80V925.10H1029.80V922.10H1032.80V931.10H1035.80V925.10H1038.80V919.10H1041.80V919.10H1044.80V928.10H1047.80V928.10H1050.80V922.10H1053.80V922.10H1056.80V928.10H1059.80V928.10H1062.80V916.10H1065.80V916.10H1068.80V925.10H1071.80V922.10H1074.80V901.10H1077.80V901.10H1080.80V916.10H1083.80V928.10H1086.80V928.10H1089.80V925.10H1092.80V925.10H1095.80V928.10H1098.80V928.10H1101.80V925.10H1104.80V925.10H1107.80V925.10H1110.80V925.10H1113.80V928.10H1116.80V928.10H1119.80V928.10H1122.80V925.10H1125.80V931.10H1128.80V925.10H1131.80V925.10H1134.80V934.10H1137.80V928.10H1140.80V928.10H1143.80V928.10H1146.80V922.10H1149.80V922.10H1152.80V919.10H1155.80V928.10H1158.80V925.10H1161.80V925.10H1164.80V925.10H1167.80V928.10H1170.80V928.10H1173.80V919.10H1176.80V919.10H1179.80V928.10H1182.80V922.10H1185.80V919.10H1188.80V931.10H1191.80V934.10H1194.80V928.10H1197.80V925.10H1200.80V925.10H1203.80V928.10H1206.80V925.10H1209.80V925.10H1212.80V925.10H1215.80V919.10H1218.80V919.10H1221.80V925.10H1224.80V919.10H1227.80V919.10H1230.80V925.10H1233.80V928.10H1236.80V928.10H1239.80V922.10H1242.80V922.10H1245.80V928.10H1248.80V928.10H1251.80V931.10H1254.80V928.10H1257.80V928.10H1260.80V928.10H1263.80V928.10H1266.80V925.10H1269.80V925.10H1272.80V931.10H1275.80V916.10H1278.80V925.10H1281.80V925.10H1284.80V928.10H1287.80V931.10H1290.80V931.10H1293.80V931.10H1296.80V931.10H1299.80V931.10H1302.80V928.10H1305.80V931.10H1308.80V934.10H1311.80V928.10H1314.80V925.10H1317.80V922.10H1320.80V919.10H1323.80V916.10H1326.80V910.10H1329.80V910.10H1332.80V925.10H1329.80V922.10H1326.80V937.10H1323.80V937.10H1320.80V934.10H1317.80V934.10H1314.80V937.10H1311.80V946.10H1308.80V946.10H1305.80V946.10H1302.80V946.10H1299.80V943.10H1296.80V943.10H1293.80V943.10H1290.80V943.10H1287.80V949.10H1284.80V949.10H1281.80V940.10H1278.80V943.10H1275.80V943.10H1272.80V943.10H1269.80V940.10H1266.80V940.10H1263.80V937.10H1260.80V937.10H1257.80V943.10H1254.80V940.10H1251.80V940.10H1248.80V937.10H1245.80V937.10H1242.80V940.10H1239.80V940.10H1236.80V949.10H1233.80V949.10H1230.80V931.10H1227.80V934.10H1224.80V943.10H1221.80V943.10H1218.80V940.10H1215.80V943.10H1212.80V946.10H1209.80V946.10H1206.80V949.10H1203.80V940.10H1200.80V940.10H1197.80V946.10H1194.80V946.10H1191.80V940.10H1188.80V940.10H1185.80V943.10H1182.80V946.10H1179.80V940.10H1176.80V937.10H1173.80V937.10H1170.80V940.10H1167.80V940.10H1164.80V934.10H1161.80V940.10H1158.80V940.10H1155.80V937.10H1152.80V934.10H1149.80V940.10H1146.80V943.10H1143.80V937.10H1140.80V943.10H1137.80V943.10H1134.80V940.10H1131.80V940.10H1128.80V946.10H1125.80V943.10H1122.80V943.10H1119.80V943.10H1116.80V940.10H1113.80V946.10H1110.80V940.10H1107.80V940.10H1104.80V940.10H1101.80V943.10H1098.80V937.10H1095.80V937.10H1092.80V943.10H1089.80V943.10H1086.80V937.10H1083.80V937.10H1080.80V934.10H1077.80V937.10H1074.80V946.10H1071.80V946.10H1068.80V934.10H1065.80V937.10H1062.80V943.10H1059.80V943.10H1056.80V943.10H1053.80V937.10H1050.80V937.10H1047.80V946.10H1044.80V943.10H1041.80V934.10H1038.80V934.10H1035.80V940.10H1032.80V940.10H1029.80V937.10H1026.80V937.10H1023.80V937.10H1020.80V934.10H1017.80V934.10H1014.80V943.10H1011.80V943.10H1008.80V940.10H1005.80V940.10H1002.80V946.10H999.80V946.10H996.80V943.10H993.80V928.10H990.80V937.10H987.80V937.10H984.80V937.10H981.80V940.10H978.80V943.10H975.80V943.10H972.80V940.10H969.80V937.10H966.80V937.10H963.80V934.10H960.80V934.10H957.80V940.10H954.80V940.10H951.80V931.10H948.80V934.10H945.80V940.10H942.80V940.10H939.80V955.10H936.80V955.10H933.80V934.10H930.80V940.10H927.80V940.10H924.80V937.10H921.80V937.10H918.80V928.10H915.80V934.10H912.80V946.10H909.80V946.10H906.80V937.10H903.80V934.10H900.80V934.10H897.80V949.10H894.80V946.10H891.80V937.10H888.80V940.10H885.80V934.10H882.80V934.10H879.80V934.10H876.80V937.10H873.80V937.10H870.80V937.10H867.80V934.10H864.80V940.10H861.80V940.10H858.80V937.10H855.80V931.10H852.80V937.10H849.80V937.10H846.80V934.10H843.80V925.10H840.80V919.10H837.80V934.10H834.80V934.10H831.80V931.10H828.80V928.10H825.80V928.10H822.80V928.10H819.80V928.10H816.80V934.10H813.80V934.10H810.80V928.10H807.80V919.10H804.80V928.10H801.80V928.10H798.80V928.10H795.80V925.10H792.80V925.10H789.80V922.10H786.80V925.10H783.80V928.10H780.80V928.10H777.80V928.10H774.80V934.10H771.80V934.10H768.80V931.10H765.80V922.10H762.80V922.10H759.80V925.10H756.80V928.10H753.80V925.10H750.80V928.10H747.80V928.10H744.80V925.10H741.80V931.10H738.80V925.10H735.80V925.10H732.80V937.10H729.80V937.10H726.80V928.10H723.80V925.10H720.80V919.10H717.80V919.10H714.80V919.10H711.80V925.10H708.80V925.10H705.80V922.10H702.80V928.10H699.80V928.10H696.80V919.10H693.80V922.10H690.80V928.10H687.80V928.10H684.80V919.10H681.80V922.10H678.80V922.10H675.80V922.10H672.80V919.10H669.80V922.10H666.80V922.10H663.80V931.10H660.80V928.10H657.80V922.10H654.80V922.10H651.80V925.10H648.80V931.10H645.80V922.10H642.80V919.10H639.80V925.10H636.80V925.10H633.80V922.10H630.80V922.10H627.80V919.10H624.80V916.10H621.80V919.10H618.80V919.10H615.80V916.10H612.80V913.10H609.80V913.10H606.80V913.10H603.80V916.10H600.80V916.10H597.80V913.10H594.80V916.10H591.80V916.10H588.80V913.10H585.80V913.10H582.80V913.10H579.80V910.10H576.80V913.10H573.80V916.10H570.80V907.10H567.80V907.10H564.80V907.10H561.80V916.10H558.80V916.10H555.80V913.10H552.80V910.10H549.80V910.10H546.80V913.10H543.80V913.10H540.80V901.10H537.80V904.10H534.80V904.10H531.80V904.10H528.80V913.10H525.80V910.10H522.80V901.10H519.80V904.10H516.80V901.10H513.80V901.10H510.80V901.10H507.80V904.10H504.80V907.10H501.80V892.10H498.80V889.10H495.80V895.10H492.80V895.10H489.80V901.10H486.80V901.10H483.80V889.10H480.80V898.10H477.80V898.10H474.80V889.10H471.80V898.10H468.80V898.10H465.80V895.10H462.80V892.10H459.80V901.10H456.80V901.10H453.80V889.10H450.80V895.10H447.80V898.10H444.80V892.10H441.80V889.10H438.80V889.10H435.80V886.10H432.80V889.10H429.80V889.10H426.80V886.10H423.80V901.10H420.80V901.10H417.80V889.10H414.80V886.10H411.80V886.10H408.80V883.10H405.80V883.10H402.80V877.10H399.80V877.10H396.80V877.10H393.80V889.10H390.80V886.10H387.80V880.10H384.80V886.10H381.80V877.10H378.80V880.10H375.80V880.10H372.80V874.10H369.80V877.10H366.80V877.10H363.80V868.10H360.80V874.10H357.80V877.10H354.80V874.10H351.80V868.10H348.80V871.10H345.80V874.10H342.80V877.10H339.80V868.10H336.80V871.10H333.80V871.10H330.80V868.10H327.80V868.10H324.80V868.10H321.80V868.10H318.80V871.10H315.80V883.10H312.80V883.10H309.80V883.10H306.80V880.10H303.80V880.10H300.80V883.10H297.80V871.10H294.80V871.10H291.80V865.10H288.80V856.10H285.80V856.10H282.80V853.10H279.80V859.10H276.80V862.10H273.80V862.10H270.80V853.10H267.80V853.10H264.80V853.10H261.80V853.10H258.80V853.10H255.80V856.10H252.80V850.10H249.80V847.10H246.80V841.10H243.80V841.10H240.80V850.10H237.80V850.10H234.80V835.10H231.80V835.10H228.80V832.10H225.80V832.10H222.80V832.10H219.80V826.10H216.80V814.10H213.80V814.10H210.80V808.10H207.80V793.10H204.80V793.10H201.80V793.10H198.80V778.10H195.80V760.10H192.80V706.10H189.80V631.10H186.80V541.10H183.80Z" fill="#2ca02c"/>
<path d="M183.80,391.10H186.80V331.10H189.80V304.10H192.80V289.10H195.80V274.10H198.80V268.10H201.80V268.10H204.80V265.10H207.80V259.10H210.80V259.10H213.80V247.10H216.80V256.10H219.80V256.10H222.80V253.10H225.80V253.10H228.80V247.10H231.80V247.10H234.80V238.10H237.80V238.10H240.80V238.10H243.80V241.10H246.80V235.10H249.80V241.10H252.80V232.10H255.80V232.10H258.80V241.10H261.80V238.10H264.80V232.10H267.80V235.10H270.80V235.10H273.80V235.10H276.80V247.10H279.80V244.10H282.80V244.10H285.80V226.10H288.80V226.10H291.80V235.10H294.80V226.10H297.80V226.10H300.80V229.10H303.80V229.10H306.80V220.10H309.80V220.10H312.80V220.10H315.80V232.10H318.80V220.10H321.80V217.10H324.80V220.10H327.80V214.10H330.80V214.10H333.80V229.10H336.80V223.10H339.80V223.10H342.80V214.10H345.80V214.10H348.80V217.10H351.80V220.10H354.80V220.10H357.80V211.10H360.80V211.10H363.80V223.10H366.80V223.10H369.80V214.10H372.80V214.10H375.80V220.10H378.80V217.10H381.80V217.10H384.80V214.10H387.80V217.10H390.80V217.10H393.80V217.10H396.80V217.10H399.80V217.10H402.80V217.10H405.80V223.10H408.80V214.10H411.80V214.10H414.80V211.10H417.80V214.10H420.80V220.10H423.80V205.10H426.80V202.10H429.80V214.10H432.80V214.10H435.80V223.10H438.80V214.10H441.80V217.10H444.80V211.10H447.80V211.10H450.80V214.10H453.80V223.10H456.80V217.10H459.80V217.10H462.80V223.10H465.80V205.10H468.80V205.10H471.80V226.10H474.80V217.10H477.80V217.10H480.80V220.10H483.80V199.10H486.80V199.10H489.80V214.10H492.80V202.10H495.80V202.10H498.80V217.10H501.80V208.10H504.80V214.10H507.80V214.10H510.80V217.10H513.80V214.10H516.80V202.10H519.80V202.10H522.80V217.10H525.80V217.10H528.80V217.10H531.80V223.10H534.80V223.10H537.80V223.10H540.80V223.10H543.80V223.10H546.80V220.10H549.80V217.10H552.80V223.10H555.80V226.10H558.80V211.10H561.80V211.10H564.80V226.10H567.80V223.10H570.80V214.10H573.80V214.10H576.80V232.10H579.80V220.10H582.80V220.10H585.80V220.10H588.80V217.10H591.80V223.10H594.80V229.10H597.80V229.10H600.80V229.10H603.80V214.10H606.80V217.10H609.80V226.10H612.80V226.10H615.80V217.10H618.80V217.10H621.80V223.10H624.80V223.10H627.80V217.10H630.80V217.10H633.80V220.10H636.80V220.10H639.80V214.10H642.80V214.10H645.80V223.10H648.80V217.10H651.80V214.10H654.80V220.10H657.80V220.10H660.80V211.10H663.80V211.10H666.80V220.10H669.80V220.10H672.80V220.10H675.80V220.10H678.80V220.10H681.80V214.10H684.80V214.10H687.80V217.10H690.80V217.10H693.80V208.10H696.80V208.10H699.80V214.10H702.80V217.10H705.80V214.10H708.80V214.10H711.80V220.10H714.80V217.10H717.80V211.10H720.80V211.10H723.80V214.10H726.80V223.10H729.80V211.10H732.80V211.10H735.80V223.10H738.80V214.10H741.80V214.10H744.80V220.10H747.80V217.10H750.80V214.10H753.80V220.10H756.80V223.10H759.80V223.10H762.80V202.10H765.80V202.10H768.80V223.10H771.80V214.10H774.80V214.10H777.80V220.10H780.80V217.10H783.80V217.10H786.80V217.10H789.80V214.10H792.80V214.10H795.80V214.10H798.80V214.10H801.80V214.10H804.80V208.10H807.80V208.10H810.80V217.10H813.80V217.10H816.80V217.10H819.80V217.10H822.80V223.10H825.80V217.10H828.80V217.10H831.80V220.10H834.80V211.10H837.80V211.10H840.80V217.10H843.80V217.10H846.80V217.10H849.80V217.10H852.80V220.10H855.80V220.10H858.80V217.10H861.80V217.10H864.80V214.10H867.80V217.10H870.80V220.10H873.80V220.10H876.80V205.10H879.80V214.10H882.80V208.10H885.80V223.10H888.80V214.10H891.80V214.10H894.80V223.10H897.80V223.10H900.80V217.10H903.80V211.10H906.80V214.10H909.80V214.10H912.80V214.10H915.80V223.10H918.80V217.10H921.80V214.10H924.80V214.10H927.80V223.10H930.80V220.10H933.80V214.10H936.80V217.10H939.80V217.10H942.80V217.10H945.80V220.10H948.80V223.10H951.80V214.10H954.80V214.10H957.80V220.10H960.80V217.10H963.80V214.10H966.80V214.10H969.80V211.10H972.80V211.10H975.80V214.10H978.80V220.10H981.80V208.10H984.80V208.10H987.80V211.10H990.80V205.10H993.80V208.10H996.80V208.10H999.80V211.10H1002.80V220.10H1005.80V214.10H1008.80V211.10H1011.80V211.10H1014.80V214.10H1017.80V211.10H1020.80V214.10H1023.80V217.10H1026.80V214.10H1029.80V214.10H1032.80V214.10H1035.80V208.10H1038.80V211.10H1041.80V217.10H1044.80V217.10H1047.80V217.10H1050.80V208.10H1053.80V208.10H1056.80V211.10H1059.80V214.10H1062.80V205.10H1065.80V205.10H1068.80V220.10H1071.80V211.10H1074.80V208.10H1077.80V208.10H1080.80V211.10H1083.80V208.10H1086.80V202.10H1089.80V208.10H1092.80V211.10H1095.80V205.10H1098.80V205.10H1101.80V208.10H1104.80V211.10H1107.80V214.10H1110.80V208.10H1113.80V208.10H1116.80V214.10H1119.80V205.10H1122.80V214.10H1125.80V217.10H1128.80V211.10H1131.80V211.10H1134.80V217.10H1137.80V214.10H1140.80V214.10H1143.80V214.10H1146.80V217.10H1149.80V211.10H1152.80V208.10H1155.80V214.10H1158.80V220.10H1161.80V220.10H1164.80V220.10H1167.80V211.10H1170.80V214.10H1173.80V226.10H1176.80V214.10H1179.80V214.10H1182.80V220.10H1185.80V223.10H1188.80V220.10H1191.80V220.10H1194.80V214.10H1197.80V214.10H1200.80V220.10H1203.80V226.10H1206.80V223.10H1209.80V214.10H1212.80V214.10H1215.80V214.10H1218.80V211.10H1221.80V208.10H1224.80V214.10H1227.80V217.10H1230.80V211.10H1233.80V211.10H1236.80V214.10H1239.80V214.10H1242.80V211.10H1245.80V217.10H1248.80V208.10H1251.80V208.10H1254.80V202.10H1257.80V199.10H1260.80V211.10H1263.80V199.10H1266.80V199.10H1269.80V217.10H1272.80V214.10H1275.80V214.10H1278.80V217.10H1281.80V214.10H1284.80V214.10H1287.80V211.10H1290.80V211.10H1293.80V217.10H1296.80V217.10H1299.80V211.10H1302.80V211.10H1305.80V220.10H1308.80V217.10H1311.80V205.10H1314.80V214.10H1317.80V217.10H1320.80V214.10H1323.80V214.10H1326.80V229.10H1329.80V229.10H1332.80V238.10H1329.80V247.10H1326.80V244.10H1323.80V235.10H1320.80V244.10H1317.80V241.10H1314.80V241.10H1311.80V238.10H1308.80V238.10H1305.80V235.10H1302.80V229.10H1299.80V229.10H1296.80V229.10H1293.80V226.10H1290.80V232.10H1287.80V235.10H1284.80V229.10H1281.80V226.10H1278.80V229.10H1275.80V232.10H1272.80V229.10H1269.80V226.10H1266.80V223.10H1263.80V226.10H1260.80V226.10H1257.80V229.10H1254.80V226.10H1251.80V226.10H1248.80V229.10H1245.80V229.10H1242.80V229.10H1239.80V223.10H1236.80V223.10H1233.80V235.10H1230.80V235.10H1227.80V226.10H1224.80V232.10H1221.80V235.10H1218.80V232.10H1215.80V229.10H1212.80V232.10H1209.80V235.10H1206.80V235.10H1203.80V232.10H1200.80V232.10H1197.80V232.10H1194.80V232.10H1191.80V235.10H1188.80V235.10H1185.80V232.10H1182.80V232.10H1179.80V235.10H1176.80V241.10H1173.80V241.10H1170.80V229.10H1167.80V229.10H1164.80V229.10H1161.80V238.10H1158.80V241.10H1155.80V235.10H1152.80V235.10H1149.80V241.10H1146.80V244.10H1143.80V238.10H1140.80V229.10H1137.80V238.10H1134.80V238.10H1131.80V235.10H1128.80V235.10H1125.80V232.10H1122.80V232.10H1119.80V232.10H1116.80V226.10H1113.80V232.10H1110.80V226.10H1107.80V229.10H1104.80V241.10H1101.80V244.10H1098.80V229.10H1095.80V238.10H1092.80V235.10H1089.80V223.10H1086.80V241.10H1083.80V241.10H1080.80V226.10H1077.80V226.10H1074.80V229.10H1071.80V235.10H1068.80V235.10H1065.80V232.10H1062.80V232.10H1059.80V232.10H1056.80V232.10H1053.80V229.10H1050.80V232.10H1047.80V229.10H1044.80V232.10H1041.80V232.10H1038.80V229.10H1035.80V226.10H1032.80V229.10H1029.80V229.10H1026.80V235.10H1023.80V232.10H1020.80V244.10H1017.80V244.10H1014.80V223.10H1011.80V232.10H1008.80V232.10H1005.80V235.10H1002.80V235.10H999.80V235.10H996.80V235.10H993.80V244.10H990.80V244.10H987.80V232.10H984.80V235.10H981.80V241.10H978.80V232.10H975.80V229.10H972.80V247.10H969.80V247.10H966.80V247.10H963.80V247.10H960.80V241.10H957.80V235.10H954.80V241.10H951.80V235.10H948.80V229.10H945.80V235.10H942.80V244.10H939.80V238.10H936.80V235.10H933.80V244.10H930.80V244.10H927.80V235.10H924.80V229.10H921.80V247.10H918.80V247.10H915.80V232.10H912.80V238.10H909.80V244.10H906.80V241.10H903.80V244.10H900.80V247.10H897.80V247.10H894.80V238.10H891.80V232.10H888.80V235.10H885.80V235.10H882.80V232.10H879.80V232.10H876.80V238.10H873.80V238.10H870.80V232.10H867.80V232.10H864.80V229.10H861.80V232.10H858.80V241.10H855.80V238.10H852.80V232.10H849.80V235.10H846.80V229.10H843.80V235.10H840.80V235.10H837.80V241.10H834.80V241.10H831.80V232.10H828.80V229.10H825.80V238.10H822.80V238.10H819.80V235.10H816.80V232.10H813.80V235.10H810.80V235.10H807.80V247.10H804.80V247.10H801.80V235.10H798.80V235.10H795.80V235.10H792.80V232.10H789.80V235.10H786.80V235.10H783.80V232.10H780.80V235.10H777.80V235.10H774.80V241.10H771.80V241.10H768.80V229.10H765.80V235.10H762.80V247.10H759.80V247.10H756.80V235.10H753.80V241.10H750.80V241.10H747.80V235.10H744.80V232.10H741.80V244.10H738.80V247.10H735.80V241.10H732.80V229.10H729.80V232.10H726.80V235.10H723.80V235.10H720.80V235.10H717.80V241.10H714.80V241.10H711.80V235.10H708.80V232.10H705.80V247.10H702.80V247.10H699.80V235.10H696.80V226.10H693.80V229.10H690.80V238.10H687.80V241.10H684.80V232.10H681.80V232.10H678.80V232.10H675.80V235.10H672.80V244.10H669.80V247.10H666.80V229.10H663.80V229.10H660.80V238.10H657.80V250.10H654.80V244.10H651.80V241.10H648.80V241.10H645.80V235.10H642.80V244.10H639.80V235.10H636.80V238.10H633.80V238.10H630.80V238.10H627.80V238.10H624.80V235.10H621.80V235.10H618.80V232.10H615.80V238.10H612.80V241.10H609.80V238.10H606.80V238.10H603.80V238.10H600.80V244.10H597.80V244.10H594.80V238.10H591.80V235.10H588.80V244.10H585.80V244.10H582.80V241.10H579.80V244.10H576.80V247.10H573.80V238.10H570.80V235.10H567.80V238.10H564.80V247.10H561.80V247.10H558.80V247.10H555.80V232.10H552.80V235.10H549.80V250.10H546.80V250.10H543.80V235.10H540.80V232.10H537.80V232.10H534.80V232.10H531.80V241.10H528.80V241.10H525.80V244.10H522.80V244.10H519.80V232.10H516.80V244.10H513.80V244.10H510.80V241.10H507.80V244.10H504.80V241.10H501.80V232.10H498.80V247.10H495.80V247.10H492.80V241.10H489.80V238.10H486.80V247.10H483.80V247.10H480.80V226.10H477.80V238.10H474.80V241.10H471.80V235.10H468.80V229.10H465.80V238.10H462.80V238.10H459.80V226.10H456.80V247.10H453.80V247.10H450.80V235.10H447.80V244.10H444.80V244.10H441.80V229.10H438.80V244.10H435.80V244.10H432.80V232.10H429.80V244.10H426.80V244.10H423.80V238.10H420.80V238.10H417.80V235.10H414.80V235.10H411.80V235.10H408.80V238.10H405.80V238.10H402.80V232.10H399.80V241.10H396.80V244.10H393.80V244.10H390.80V226.10H387.80V235.10H384.80V235.10H381.80V241.10H378.80V238.10H375.80V238.10H372.80V235.10H369.80V235.10H366.80V244.10H363.80V244.10H360.80V247.10H357.80V247.10H354.80V232.10H351.80V244.10H348.80V241.10H345.80V241.10H342.80V232.10H339.80V247.10H336.80V247.10H333.80V241.10H330.80V238.10H327.80V256.10H324.80V256.10H321.80V250.10H318.80V259.10H315.80V256.10H312.80V235.10H309.80V247.10H306.80V247.10H303.80V250.10H300.80V253.10H297.80V241.10H294.80V247.10H291.80V256.10H288.80V250.10H285.80V253.10H282.80V271.10H279.80V271.10H276.80V253.10H273.80V247.10H270.80V265.10H267.80V265.10H264.80V262.10H261.80V262.10H258.80V262.10H255.80V262.10H252.80V259.10H249.80V253.10H246.80V262.10H243.80V262.10H240.80V259.10H237.80V259.10H234.80V259.10H231.80V268.10H228.80V268.10H225.80V265.10H222.80V265.10H219.80V271.10H216.80V286.10H213.80V295.10H210.80V289.10H207.80V289.10H204.80V289.10H201.80V286.10H198.80V301.10H195.80V322.10H192.80V355.10H189.80V490.10H186.80V562.10H183.80Z" fill="#d62728"/>
</g>
<rect x="128.3" y="134.6" width="1262.2" height="987.1999999999999" fill="none" stroke="#222" stroke-width="3.1"/>
<path d="M117.8,1121.8H128.3 M117.8,925.1H128.3 M117.8,725.5H128.3 M117.8,528.4H128.3 M117.8,331.7H128.3 M117.8,134.6H128.3 M184.5,1121.8V1133.8 M328.4,1121.8V1133.8 M472.5,1121.8V1133.8 M616.7,1121.8V1133.8 M760.4,1121.8V1133.8 M902.0,1121.8V1133.8 M1045.4,1121.8V1133.8 M1189.6,1121.8V1133.8 M1334.0,1121.8V1133.8" stroke="#222" stroke-width="2.7" fill="none"/>
<text x="62.96" y="1132.1" font-family="'DejaVu Sans', 'Liberation Sans', sans-serif" font-size="32.5" textLength="45.7" lengthAdjust="spacingAndGlyphs" fill="#000">0.0</text>
<text x="62.96" y="935.4" font-family="'DejaVu Sans', 'Liberation Sans', sans-serif" font-size="32.5" textLength="45.7" lengthAdjust="spacingAndGlyphs" fill="#000">0.2</text>
<text x="62.96" y="738.4" font-family="'DejaVu Sans', 'Liberation Sans', sans-serif" font-size="32.5" textLength="45.7" lengthAdjust="spacingAndGlyphs" fill="#000">0.4</text>
<text x="62.96" y="541.5" font-family="'DejaVu Sans', 'Liberation Sans', sans-serif" font-size="32.5" textLength="45.7" lengthAdjust="spacingAndGlyphs" fill="#000">0.6</text>
<text x="62.96" y="341.5" font-family="'DejaVu Sans', 'Liberation Sans', sans-serif" font-size="32.5" textLength="45.7" lengthAdjust="spacingAndGlyphs" fill="#000">0.8</text>
<text x="62.96" y="144.8" font-family="'DejaVu Sans', 'Liberation Sans', sans-serif" font-size="32.5" textLength="41.6" lengthAdjust="spacingAndGlyphs" fill="#000">1.0</text>
<text x="186.0" y="1164.9" text-anchor="middle" font-family="'DejaVu Sans', 'Liberation Sans', sans-serif" font-size="32.5" textLength="20.6" lengthAdjust="spacingAndGlyphs" fill="#000">0</text>
<text x="328.2" y="1164.9" text-anchor="middle" font-family="'DejaVu Sans', 'Liberation Sans', sans-serif" font-size="32.5" textLength="52.7" lengthAdjust="spacingAndGlyphs" fill="#000">100</text>
<text x="470.2" y="1164.9" text-anchor="middle" font-family="'DejaVu Sans', 'Liberation Sans', sans-serif" font-size="32.5" textLength="52.7" lengthAdjust="spacingAndGlyphs" fill="#000">200</text>
<text x="614.9" y="1164.9" text-anchor="middle" font-family="'DejaVu Sans', 'Liberation Sans', sans-serif" font-size="32.5" textLength="52.7" lengthAdjust="spacingAndGlyphs" fill="#000">300</text>
<text x="758.5" y="1164.9" text-anchor="middle" font-family="'DejaVu Sans', 'Liberation Sans', sans-serif" font-size="32.5" textLength="52.7" lengthAdjust="spacingAndGlyphs" fill="#000">400</text>
<text x="903.3" y="1164.9" text-anchor="middle" font-family="'DejaVu Sans', 'Liberation Sans', sans-serif" font-size="32.5" textLength="52.7" lengthAdjust="spacingAndGlyphs" fill="#000">500</text>
<text x="1044.3" y="1164.9" text-anchor="middle" font-family="'DejaVu Sans', 'Liberation Sans', sans-serif" font-size="32.5" textLength="52.7" lengthAdjust="spacingAndGlyphs" fill="#000">600</text>
<text x="1188.5" y="1164.9" text-anchor="middle" font-family="'DejaVu Sans', 'Liberation Sans', sans-serif" font-size="32.5" textLength="52.7" lengthAdjust="spacingAndGlyphs" fill="#000">700</text>
<text x="1332.1" y="1164.9" text-anchor="middle" font-family="'DejaVu Sans', 'Liberation Sans', sans-serif" font-size="32.5" textLength="52.7" lengthAdjust="spacingAndGlyphs" fill="#000">800</text>
<text x="512.25" y="69.8" font-family="'DejaVu Sans', 'Liberation Sans', sans-serif" font-size="37.2" textLength="487" lengthAdjust="spacingAndGlyphs" fill="#000">Loss: 0.165, Accuracy: 0.935</text>
<text x="445.8" y="115" font-family="'DejaVu Sans', 'Liberation Sans', sans-serif" font-size="37.2" textLength="624" lengthAdjust="spacingAndGlyphs" fill="#000">Val_Loss: 0.202, Val_Accuracy: 0.902</text>
<rect x="143" y="909.7" width="284.7" height="196.8" rx="3.5" ry="3.5" fill="#fff" fill-opacity="0.8" stroke="#d0d0d0" stroke-width="3"/>
<line x1="149.4" y1="932.8" x2="211.6" y2="932.8" stroke="#5799c7" stroke-width="5.8"/>
<text x="231.32" y="947.9" font-family="'DejaVu Sans', 'Liberation Sans', sans-serif" font-size="31.7" textLength="54.67" lengthAdjust="spacingAndGlyphs" fill="#000">loss</text>
<line x1="149.4" y1="978.1" x2="211.6" y2="978.1" stroke="#ff9f4a" stroke-width="5.8"/>
<text x="232.53" y="992.9" font-family="'DejaVu Sans', 'Liberation Sans', sans-serif" font-size="31.7" textLength="126.32" lengthAdjust="spacingAndGlyphs" fill="#000">accuracy</text>
<line x1="149.4" y1="1023.4" x2="211.6" y2="1023.4" stroke="#61b861" stroke-width="5.8"/>
<text x="230.41" y="1038.4" font-family="'DejaVu Sans', 'Liberation Sans', sans-serif" font-size="31.7" textLength="109.78" lengthAdjust="spacingAndGlyphs" fill="#000">val_loss</text>
<line x1="149.4" y1="1072.0" x2="211.6" y2="1072.0" stroke="#e05d5e" stroke-width="5.8"/>
<text x="230.42" y="1086.4" font-family="'DejaVu Sans', 'Liberation Sans', sans-serif" font-size="31.7" textLength="181.79" lengthAdjust="spacingAndGlyphs" fill="#000">val_accuracy</text></svg>
</body></html>
